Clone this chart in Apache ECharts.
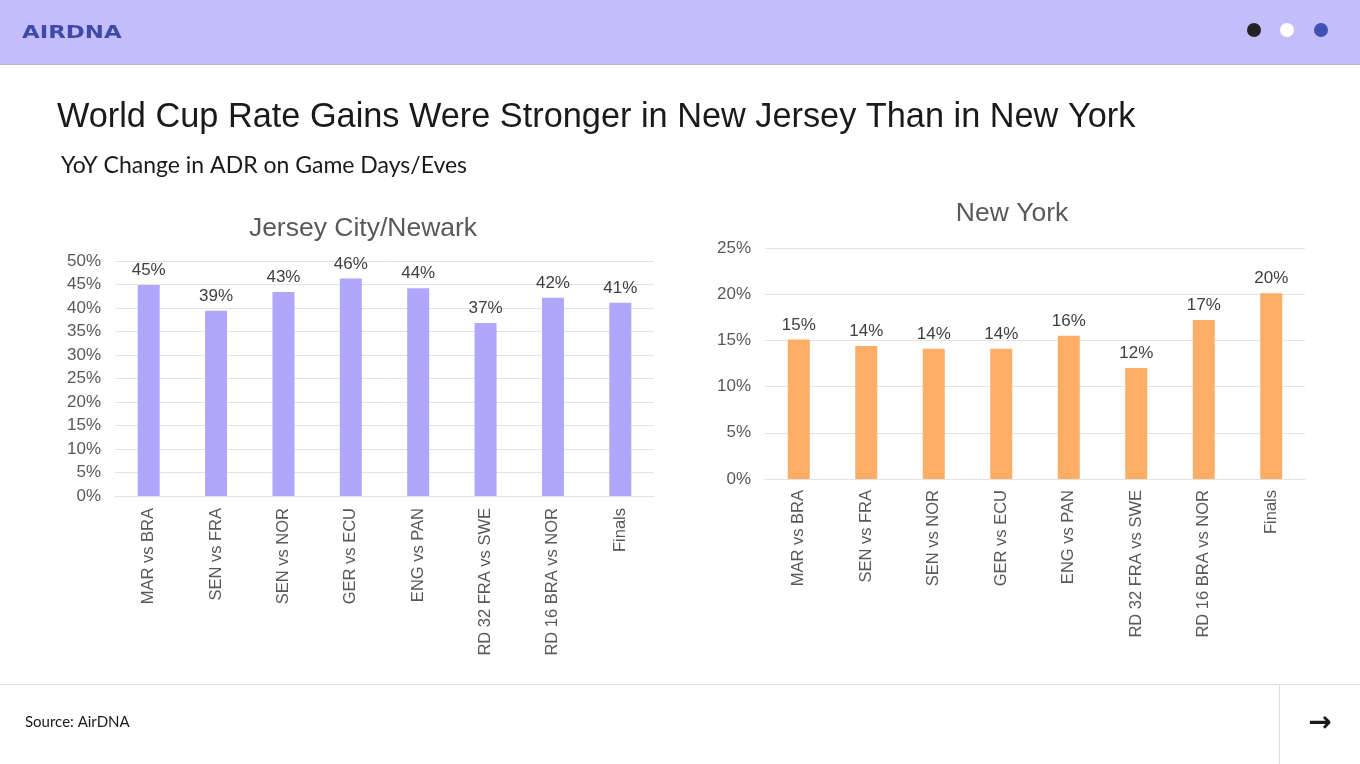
<!DOCTYPE html>
<html>
<head>
<meta charset="utf-8">
<script src="https://cdn.jsdelivr.net/npm/echarts@6/dist/echarts.min.js"></script>
<style>
html,body{margin:0;padding:0;background:#fff;}
#c{width:1360px;height:764px;}
</style>
</head>
<body>
<div id="c"></div>
<script>
// ---- data ----
const categories = ['MAR vs BRA','SEN vs FRA','SEN vs NOR','GER vs ECU','ENG vs PAN','RD 32 FRA vs SWE','RD 16 BRA vs NOR','Finals'];
const jerseyValues = [44.9, 39.4, 43.4, 46.3, 44.2, 36.8, 42.2, 41.1];
const newYorkValues = [15.1, 14.4, 14.1, 14.1, 15.5, 12.0, 17.2, 20.1];
const jerseyTicks = [0, 5, 10, 15, 20, 25, 30, 35, 40, 45, 50];
const newYorkTicks = [0, 5, 10, 15, 20, 25];
const mainTitle = 'World Cup Rate Gains Were Stronger in New Jersey Than in New York';
const subTitle = 'YoY Change in ADR on Game Days/Eves';
const leftTitle = 'Jersey City/Newark';
const rightTitle = 'New York';
const sourceText = 'Source: AirDNA';

const chart = echarts.init(document.getElementById('c'));
const axisFont = 'Liberation Sans, Arial, sans-serif';
const gray = '#595959';

function yAxis(idx, ticks){
  return {
    type:'value', gridIndex:idx,
    min: ticks[0], max: ticks[ticks.length-1], interval: ticks[1]-ticks[0],
    axisLine:{show:false}, axisTick:{show:false},
    splitLine:{lineStyle:{color:'#e3e3e3', width:1}},
    axisLabel:{formatter:'{value}%', color:gray, fontSize:17, fontFamily:axisFont, margin:14}
  };
}
function xAxis(idx, margin){
  return {
    type:'category', gridIndex:idx, data:categories,
    axisLine:{show:true, lineStyle:{color:'#e3e3e3'}}, axisTick:{show:false},
    axisLabel:{rotate:90, color:gray, fontSize:16.5, fontFamily:axisFont, margin:margin, interval:0}
  };
}
function series(idx, vals, color){
  return {
    type:'bar', xAxisIndex:idx, yAxisIndex:idx, data:vals, barWidth:22,
    itemStyle:{color:color},
    label:{show:true, position:'top', distance:6, color:'#404040', fontSize:17, fontFamily:axisFont,
      formatter:p=>Math.round(p.value)+'%'}
  };
}

chart.setOption({
  animation:false,
  grid:[
    {left:115, right:706, top:261, bottom:268},
    {left:765, right:55, top:248, bottom:285}
  ],
  xAxis:[xAxis(0,12), xAxis(1,11)],
  yAxis:[yAxis(0, jerseyTicks), yAxis(1, newYorkTicks)],
  series:[series(0, jerseyValues, '#b0a6fb'), series(1, newYorkValues, '#fdae66')],
  graphic:[
    {type:'rect', shape:{x:0,y:0,width:1360,height:64}, style:{fill:'#c5bdfa'}, z:-1},
    {type:'line', shape:{x1:0,y1:64.5,x2:1360,y2:64.5}, style:{stroke:'#b9b4d6', lineWidth:1}},
    {type:'text', x:22, y:33, scaleX:1.27, style:{text:'AIRDNA', fill:'#3e4aa6', font:'bold 18px "DejaVu Sans"', textVerticalAlign:'middle'}},
    {type:'circle', shape:{cx:1254,cy:30,r:7}, style:{fill:'#222222'}},
    {type:'circle', shape:{cx:1287,cy:30,r:7}, style:{fill:'#ffffff'}},
    {type:'circle', shape:{cx:1321,cy:30,r:7}, style:{fill:'#3f51b5'}},
    {type:'text', x:57, y:118, style:{text:mainTitle, fill:'#1a1a1a', font:'34.3px "Liberation Sans"', textVerticalAlign:'middle'}},
    {type:'text', x:61, y:166, style:{text:subTitle, fill:'#1a1a1a', font:'23px Lato', textVerticalAlign:'middle'}},
    {type:'text', x:363, y:229, style:{text:leftTitle, fill:gray, font:'26.5px "Liberation Sans"', textAlign:'center', textVerticalAlign:'middle'}},
    {type:'text', x:1012, y:214, style:{text:rightTitle, fill:gray, font:'26.5px "Liberation Sans"', textAlign:'center', textVerticalAlign:'middle'}},
    {type:'line', shape:{x1:0,y1:684.5,x2:1360,y2:684.5}, style:{stroke:'#dddddd', lineWidth:1}},
    {type:'line', shape:{x1:1279.5,y1:685,x2:1279.5,y2:764}, style:{stroke:'#dddddd', lineWidth:1}},
    {type:'text', x:25, y:722, style:{text:sourceText, fill:'#1a1a1a', font:'15px Lato', textVerticalAlign:'middle'}},
    {type:'text', x:1320, y:724, style:{text:'→', fill:'#1a1a1a', font:'bold 28px "DejaVu Sans"', textAlign:'center', textVerticalAlign:'middle'}}
  ]
});
</script>
</body>
</html>
